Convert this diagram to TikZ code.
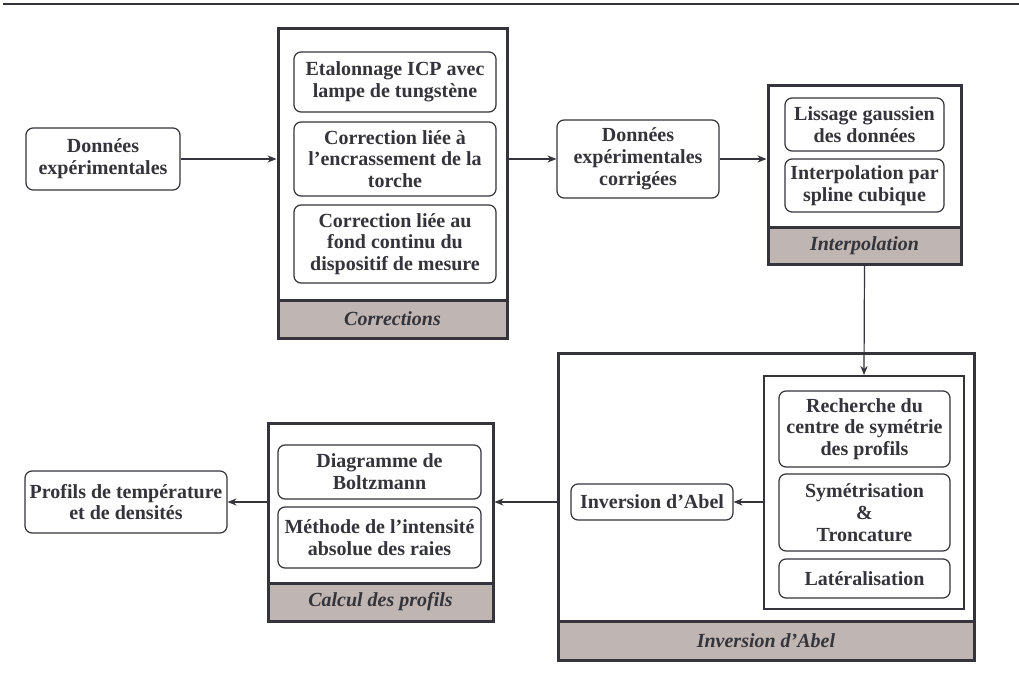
\documentclass[tikz,border=0pt]{standalone}
\usepackage{fontspec}
\setmainfont{Liberation Serif}
\usetikzlibrary{arrows.meta}
\definecolor{ink}{RGB}{52,52,58}
\definecolor{bandgrey}{RGB}{191,181,178}
\begin{document}
\begin{tikzpicture}[x=0.5pt,y=-0.5pt,
  box/.style={draw=ink, line width=0.6pt, rounded corners=3.5pt, fill=white, align=center,
    font=\fontsize{10}{10.9}\selectfont\bfseries, text=ink, inner sep=0pt},
  frame/.style={draw=ink, line width=1.5pt, fill=white, inner sep=0pt},
  innerframe/.style={draw=ink, line width=1pt, fill=white, inner sep=0pt},
  bandbox/.style={draw=ink, line width=1.5pt, fill=bandgrey, inner sep=0pt,
    font=\fontsize{10}{11}\selectfont\bfseries\itshape, text=ink},
  arr/.style={draw=ink, line width=0.6pt, -{Stealth[length=4.5pt,width=3.6pt]}},
  rule/.style={draw=ink, line width=1.1pt}]
\useasboundingbox (0,0) rectangle (1019,686);
\coordinate (r1) at (3,4);
\coordinate (r2) at (1019,4);
\draw[rule] (r1) -- (r2);

% Donnees experimentales
\node[box, minimum width=77pt, minimum height=31pt] (d1) at (103,159) {Données\\expérimentales};

% Corrections
\node[frame, minimum width=114.5pt, minimum height=155pt] (corr) at (392.5,183) {};
\node[bandbox, minimum width=114.5pt, minimum height=19pt] (corrb) at (392.5,319) {Corrections};
\node[box, minimum width=101pt, minimum height=30pt] (c1) at (395,82) {Etalonnage ICP avec\\lampe de tungstène};
\node[box, minimum width=101pt, minimum height=37pt] (c2) at (395,159) {Correction liée à\\l’encrassement de la\\torche};
\node[box, minimum width=101pt, minimum height=39pt] (c3) at (395,244) {Correction liée au\\fond continu du\\dispositif de mesure};

% Donnees corrigees
\node[box, minimum width=81pt, minimum height=39pt] (d2) at (638,159) {Données\\expérimentales\\corrigées};

% Interpolation
\node[frame, minimum width=96.5pt, minimum height=89.5pt] (interp) at (864.5,174.5) {};
\node[bandbox, minimum width=96.5pt, minimum height=18.5pt] (interpb) at (864.5,245.5) {Interpolation};
\node[box, minimum width=79.5pt, minimum height=26.5pt] (i1) at (864.5,124.5) {Lissage gaussien\\des données};
\node[box, minimum width=79.5pt, minimum height=26.5pt] (i2) at (864.5,185.5) {Interpolation par\\spline cubique};

% Inversion d'Abel
\node[frame, minimum width=208pt, minimum height=153.5pt] (inv) at (766,506.5) {};
\node[bandbox, minimum width=208pt, minimum height=19.5pt] (invb) at (766,640.5) {Inversion d’Abel};
\node[innerframe, minimum width=100pt, minimum height=116.5pt] (sym) at (864,492.5) {};
\node[box, minimum width=85.5pt, minimum height=38pt] (a1) at (864.5,429) {Recherche du\\centre de symétrie\\des profils};
\node[box, minimum width=85.5pt, minimum height=38.5pt] (a2) at (864.5,512.5) {Symétrisation\\\&\\Troncature};
\node[box, minimum width=85.5pt, minimum height=19.5pt] (a3) at (864.5,578.5) {Latéralisation};
\node[box, minimum width=81pt, minimum height=18pt] (ab) at (652,502) {Inversion d’Abel};

% Calcul des profils
\node[frame, minimum width=112.5pt, minimum height=99pt] (calc) at (380.5,522) {};
\node[bandbox, minimum width=112.5pt, minimum height=19pt] (calcb) at (380.5,602) {Calcul des profils};
\node[box, minimum width=101.5pt, minimum height=27pt] (k1) at (379.5,472) {Diagramme de\\Boltzmann};
\node[box, minimum width=101.5pt, minimum height=30.5pt] (k2) at (379.5,537.5) {Méthode de l’intensité\\absolue des raies};

% Profils
\node[box, minimum width=101pt, minimum height=31pt] (prof) at (126,502) {Profils de température\\et de densités};

% connectors
\draw[arr] (d1.east) -- (d1.east -| corr.west);
\draw[arr] (corr.east |- d2.west) -- (d2.west);
\draw[arr] (d2.east) -- (d2.east -| interp.west);
\draw[arr] (interp.south) -- (sym.north);
\draw[arr] (sym.west |- ab.east) -- (ab.east);
\draw[arr] (inv.west |- ab.east) -- (calc.east |- ab.east);
\draw[arr] (calc.west |- prof.east) -- (prof.east);
\end{tikzpicture}
\end{document}
